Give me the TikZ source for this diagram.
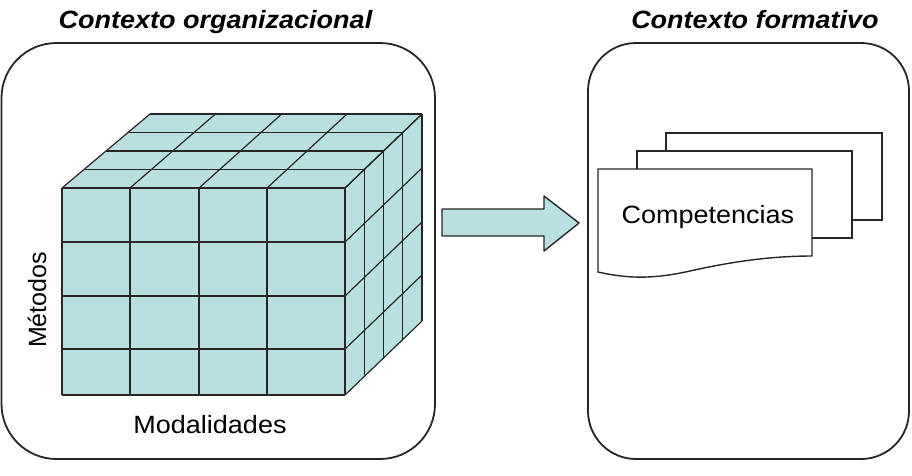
\documentclass[tikz,border=0pt]{standalone}
\usepackage{fontspec}
\setmainfont{Liberation Sans}[FakeStretch=1.08]
\newfontfamily\plainsans{Liberation Sans}
\definecolor{cubefill}{HTML}{BADFE0}
\definecolor{edge}{HTML}{262626}
\begin{document}
\begin{tikzpicture}[x=1pt,y=-1pt,
  ctxbox/.style={draw=edge,line width=1.8pt},
  grid/.style={draw=edge,line width=1.2pt,line join=round},
  doc/.style={draw=edge,line width=1.4pt,fill=white},
  title/.style={font=\fontsize{25}{28}\selectfont\bfseries\itshape,anchor=base},
  lbl/.style={font=\fontsize{25}{28}\selectfont,anchor=base}]
\useasboundingbox (0,0) rectangle (912,475);
% context boxes
\draw[ctxbox,rounded corners=55pt] (1.5,43) rectangle (435,459);
\draw[ctxbox,rounded corners=48pt] (588,43) rectangle (909,459);
\node[title] (t1) at (215.5,28) {Contexto organizacional};
\node[title] (t2) at (755,28) {Contexto formativo};
% cube faces
\fill[cubefill] (62,188) -- (150,114) -- (422,114) -- (345,188) -- cycle;
\fill[cubefill] (345,188) -- (422,114) -- (422,320) -- (345,395) -- cycle;
\fill[cubefill] (62,188) rectangle (345,395);
% top face grid
\foreach \xl/\xr/\y in {62/345/188, 84/364.25/169.5, 106/383.5/151, 128/402.75/132.5, 150/422/114}
  \draw[grid] (\xl,\y) -- (\xr,\y);
\foreach \xf/\xb in {62/150, 130/215.4, 199/281.7, 267/347, 345/422}
  \draw[grid] (\xf,188) -- (\xb,114);
% right face grid
\foreach \x/\yt in {345/188, 364.25/169.5, 383.5/151, 402.75/132.5, 422/114}
  \draw[grid] (\x,\yt) -- (\x,\yt+207);
\foreach \v in {188,242,296,349,395}
  \draw[grid] (345,\v) -- (422,\v-74);
% front face grid
\foreach \x in {62,130,199,267,345}
  \draw[grid] (\x,188) -- (\x,395);
\foreach \y in {188,242,296,349,395}
  \draw[grid] (62,\y) -- (345,\y);
\node[font=\plainsans\fontsize{25}{28}\selectfont,rotate=90] (met) at (37,300) {Métodos};
\node[lbl] (mod) at (210,433) {Modalidades};
% block arrow
\draw[grid,fill=cubefill,line width=1.4pt] (442,209) -- (544,209) -- (544,196) -- (579,223)
  -- (544,251) -- (544,236) -- (442,236) -- cycle;
% documents
\draw[doc] (666,133) rectangle (882,220);
\draw[doc] (637,151) rectangle (852,238);
\draw[doc] (598,169) -- (812,169) -- (812,256)
  .. controls (770,256) and (730,262) .. (690,271)
  .. controls (650,280) and (625,278) .. (598,272) -- cycle;
\node[lbl,anchor=base west] (comp) at (618,223) {Competencias};
\end{tikzpicture}
\end{document}
